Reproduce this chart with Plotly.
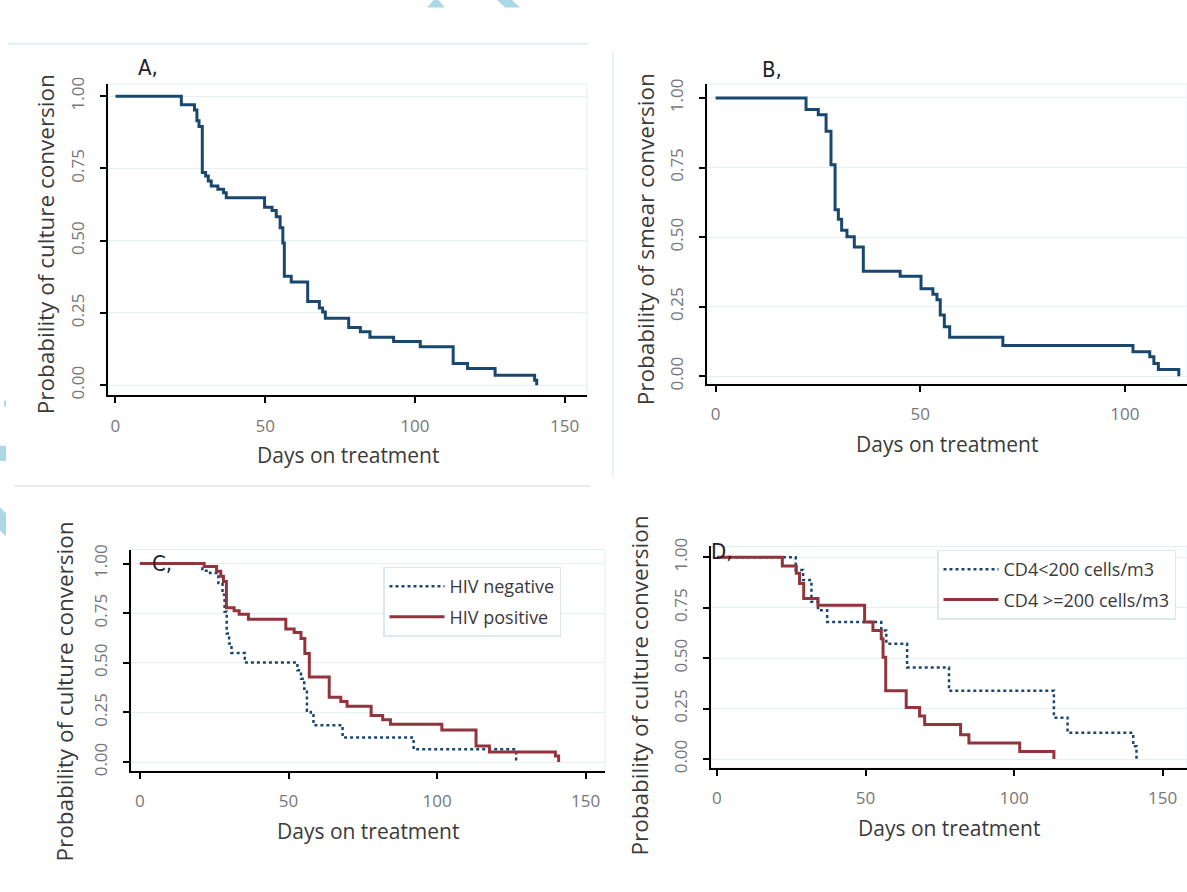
import plotly.graph_objects as go

W, H = 1187, 892

# ---------------- data ----------------
A_days = [0, 22, 26.4, 27.2, 27.9, 29, 30.1, 31, 32, 34.2, 36.1, 37, 49.8, 52.3, 53.7, 55, 55.9, 56.4,
          58.7, 64.2, 68.1, 69.2, 70.1, 77.9, 81.8, 85, 92.9, 101.8, 112.8, 117.6, 126.8, 140, 140.7]
A_surv = [1.0, 0.970, 0.952, 0.915, 0.895, 0.736, 0.724, 0.707, 0.689, 0.678, 0.666, 0.649, 0.616, 0.605,
          0.583, 0.545, 0.492, 0.377, 0.357, 0.290, 0.267, 0.253, 0.232, 0.200, 0.185, 0.166, 0.151, 0.133,
          0.075, 0.058, 0.035, 0.017, 0.0]

B_days = [0, 22.1, 25.1, 27, 28.2, 29.2, 30, 30.8, 32.1, 33.9, 36.1, 45.1, 50.2, 53.1, 54.1, 54.9, 55.9,
          57.2, 70.2, 102, 106.1, 107.1, 108.2, 113.2]
B_surv = [1.0, 0.959, 0.940, 0.880, 0.760, 0.598, 0.564, 0.525, 0.501, 0.464, 0.377, 0.359, 0.314, 0.295,
          0.275, 0.220, 0.178, 0.140, 0.110, 0.088, 0.070, 0.046, 0.024, 0.0]

C_neg_days = [0, 21, 23.6, 26.4, 27.8, 28.5, 29.2, 30, 30.8, 35.3, 53, 54.2, 55.3, 56.2, 57.5, 58.4, 68.2,
              92.1, 126.6]
C_neg_surv = [1.0, 0.964, 0.953, 0.902, 0.843, 0.758, 0.648, 0.597, 0.550, 0.501, 0.462, 0.420, 0.369,
              0.259, 0.242, 0.186, 0.124, 0.064, 0.0]
C_pos_days = [0, 21.6, 25.8, 27.2, 28.1, 29.1, 31.7, 33.4, 36.5, 49.1, 51.9, 54.2, 55.5, 57, 63.7, 67.6,
              69.7, 77.8, 81.7, 84.3, 101.6, 113.1, 117.6, 139.8, 140.9]
C_pos_surv = [1.0, 0.986, 0.961, 0.936, 0.910, 0.778, 0.763, 0.745, 0.719, 0.670, 0.653, 0.623, 0.547,
              0.428, 0.327, 0.305, 0.281, 0.234, 0.213, 0.191, 0.162, 0.081, 0.051, 0.030, 0.0]

D_lo_days = [0, 26.5, 29, 31.8, 34, 37.1, 55.3, 57, 64, 78.1, 113.4, 118, 140.1, 141.2]
D_lo_surv = [1.0, 0.937, 0.887, 0.779, 0.737, 0.679, 0.637, 0.571, 0.454, 0.338, 0.205, 0.130, 0.063, 0.0]
D_hi_days = [0, 22, 26.7, 27.8, 29.2, 34, 49.7, 52.5, 55.3, 55.9, 56.8, 63.7, 68.2, 69.9, 82, 84.8,
             101.9, 113.4]
D_hi_surv = [1.0, 0.957, 0.920, 0.870, 0.795, 0.762, 0.679, 0.637, 0.596, 0.504, 0.338, 0.255, 0.213,
             0.171, 0.121, 0.080, 0.038, 0.0]

x_ticks = [0, 50, 100, 150]
y_ticks = [0, 0.25, 0.5, 0.75, 1.0]
y_tick_text = ["0.00", "0.25", "0.50", "0.75", "1.00"]

panel_labels = ["A,", "B,", "C,", "D,"]
y_titles = ["Probability of culture conversion", "Probability of smear conversion",
            "Probability of culture conversion", "Probability of culture conversion"]
x_title = "Days on treatment"
legend_C = ["HIV negative", "HIV positive"]
legend_D = ["CD4<200 cells/m3", "CD4 >=200 cells/m3"]

NAVY = "#1a476f"
MAROON = "#90353b"
GRID = "#e6f0f2"
TICKC = "#777777"
TITLEC = "#3a3a3a"
FONT = "Open Sans"

# empirical correction for the vertical placement observed in the rendered page
VOFF, VSCALE = 10.5, 0.977


def px_x(p):
    return p / W


def px_y(p):
    return 1 - ((p - VOFF) / VSCALE) / H


# panel geometry in pixels of the reference: (left, right, top, bottom), x range, y range
panels = [
    dict(box=(108, 587, 86, 395), xr=[-2.5, 157.5], yr=[-0.035, 1.042]),
    dict(box=(707, 1187, 86, 384), xr=[-2.1, 115.2], yr=[-0.029, 1.05]),
    dict(box=(131, 605, 548, 768), xr=[-3.0, 156.5], yr=[-0.046, 1.071]),
    dict(box=(711, 1187, 545, 765), xr=[-2.0, 158.2], yr=[-0.045, 1.053]),
]

fig = go.Figure()

fig.add_trace(go.Scatter(x=A_days, y=A_surv, mode="lines", line=dict(color=NAVY, width=3, shape="hv"),
                         showlegend=False, xaxis="x", yaxis="y"))
fig.add_trace(go.Scatter(x=B_days, y=B_surv, mode="lines", line=dict(color=NAVY, width=3, shape="hv"),
                         showlegend=False, xaxis="x2", yaxis="y2"))
fig.add_trace(go.Scatter(x=C_neg_days, y=C_neg_surv, mode="lines", name=legend_C[0],
                         line=dict(color=NAVY, width=2.5, shape="hv", dash="dot"),
                         legend="legend", legendgroup="c1", xaxis="x3", yaxis="y3"))
fig.add_trace(go.Scatter(x=C_pos_days, y=C_pos_surv, mode="lines", name=legend_C[1],
                         line=dict(color=MAROON, width=3, shape="hv"),
                         legend="legend", legendgroup="c2", xaxis="x3", yaxis="y3"))
fig.add_trace(go.Scatter(x=D_lo_days, y=D_lo_surv, mode="lines", name=legend_D[0],
                         line=dict(color=NAVY, width=2.5, shape="hv", dash="dot"),
                         legend="legend2", legendgroup="d1", xaxis="x4", yaxis="y4"))
fig.add_trace(go.Scatter(x=D_hi_days, y=D_hi_surv, mode="lines", name=legend_D[1],
                         line=dict(color=MAROON, width=3, shape="hv"),
                         legend="legend2", legendgroup="d2", xaxis="x4", yaxis="y4"))

layout = dict(
    width=W, height=H, autosize=False,
    margin=dict(l=0, r=0, t=0, b=0),
    paper_bgcolor="white", plot_bgcolor="white",
    font=dict(family=FONT, color=TITLEC),
    shapes=[], annotations=[],
)

for i, p in enumerate(panels):
    l, r, t, b = p["box"]
    sx = "" if i == 0 else str(i + 1)
    layout["xaxis" + sx] = dict(
        domain=[px_x(l), px_x(r)], range=p["xr"], anchor="y" + sx,
        tickvals=x_ticks, ticks="outside", ticklen=6, tickwidth=1.5, tickcolor="black",
        showline=True, linecolor="black", linewidth=1.5, showgrid=False, zeroline=False,
        tickfont=dict(family=FONT, size=17, color=TICKC), ticklabelstandoff=8,
    )
    layout["yaxis" + sx] = dict(
        domain=[px_y(b), px_y(t)], range=p["yr"], anchor="x" + sx,
        tickvals=y_ticks, ticktext=y_tick_text, tickangle=-90,
        ticks="outside", ticklen=6, tickwidth=1.5, tickcolor="black",
        showline=True, linecolor="black", linewidth=1.5,
        showgrid=True, gridcolor=GRID, gridwidth=1.2, zeroline=False,
        tickfont=dict(family=FONT, size=17, color=TICKC), ticklabelstandoff=9,
    )
    layout["shapes"].append(dict(type="rect", xref="x" + sx + " domain", yref="y" + sx + " domain",
                                 x0=0, x1=1, y0=0, y1=1, line=dict(color="#e3eef1", width=1), layer="below"))
    layout["annotations"].append(dict(text=x_title, xref="x" + sx + " domain", yref="paper",
                                      x=0.5, y=px_y(b + 59), xanchor="center", yanchor="middle",
                                      showarrow=False, font=dict(family=FONT, size=21, color=TITLEC)))

ytitle_pos = [(45, 245), (645, 240), (65, 689), (640, 683)]
for txt, (cx, cy) in zip(y_titles, ytitle_pos):
    layout["annotations"].append(dict(text=txt, xref="paper", yref="paper", x=px_x(cx), y=px_y(cy),
                                      xanchor="center", yanchor="middle", textangle=-90, showarrow=False,
                                      font=dict(family=FONT, size=22.5, color=TITLEC)))

label_pos = [(148, 70), (772, 72), (162, 562), (722, 550)]
for txt, (cx, cy) in zip(panel_labels, label_pos):
    layout["annotations"].append(dict(text=txt, xref="paper", yref="paper", x=px_x(cx), y=px_y(cy),
                                      xanchor="center", yanchor="middle", showarrow=False,
                                      font=dict(family="DejaVu Sans Condensed, Liberation Sans", size=22,
                                                color="#222222")))

SEP = "#e4eef1"
layout["shapes"] += [
    dict(type="line", xref="paper", yref="paper", x0=px_x(8), x1=px_x(588), y0=px_y(46), y1=px_y(46),
         line=dict(color=SEP, width=2)),
    dict(type="line", xref="paper", yref="paper", x0=px_x(14), x1=px_x(590), y0=px_y(485), y1=px_y(485),
         line=dict(color=SEP, width=2)),
    dict(type="line", xref="paper", yref="paper", x0=px_x(613), x1=px_x(613), y0=px_y(55), y1=px_y(477),
         line=dict(color=SEP, width=1.5)),
]

WM = "#aad8e6"


def path(pts):
    return "M " + " L ".join(f"{px_x(x):.5f},{px_y(y):.5f}" for x, y in pts) + " Z"


for pts in [
    [(427, 10), (436, 0), (445, 10)],
    [(490, -4), (505, -4), (520, 10), (505, 10)],
    [(535, -4), (548, -4), (541, 2)],
    [(0, 445), (6, 445), (6, 460), (0, 460)],
    [(0, 506), (6, 512), (6, 535), (0, 529)],
    [(4, 400), (6, 400), (6, 406), (4, 406)],
]:
    layout["shapes"].append(dict(type="path", xref="paper", yref="paper", path=path(pts),
                                 fillcolor=WM, line=dict(width=0)))

legend_common = dict(bgcolor="white", bordercolor="#dbe8ec", borderwidth=1.5,
                     font=dict(family=FONT, size=18, color=TITLEC), xanchor="left", yanchor="top",
                     tracegroupgap=4, itemwidth=55)
layout["legend"] = dict(x=px_x(383), y=px_y(565), **legend_common)
layout["legend2"] = dict(x=px_x(937), y=px_y(548), **legend_common)

fig.update_layout(**layout)
fig.write_html("out.html", post_script="document.body.style.margin='0';",
               config={"displayModeBar": False})
